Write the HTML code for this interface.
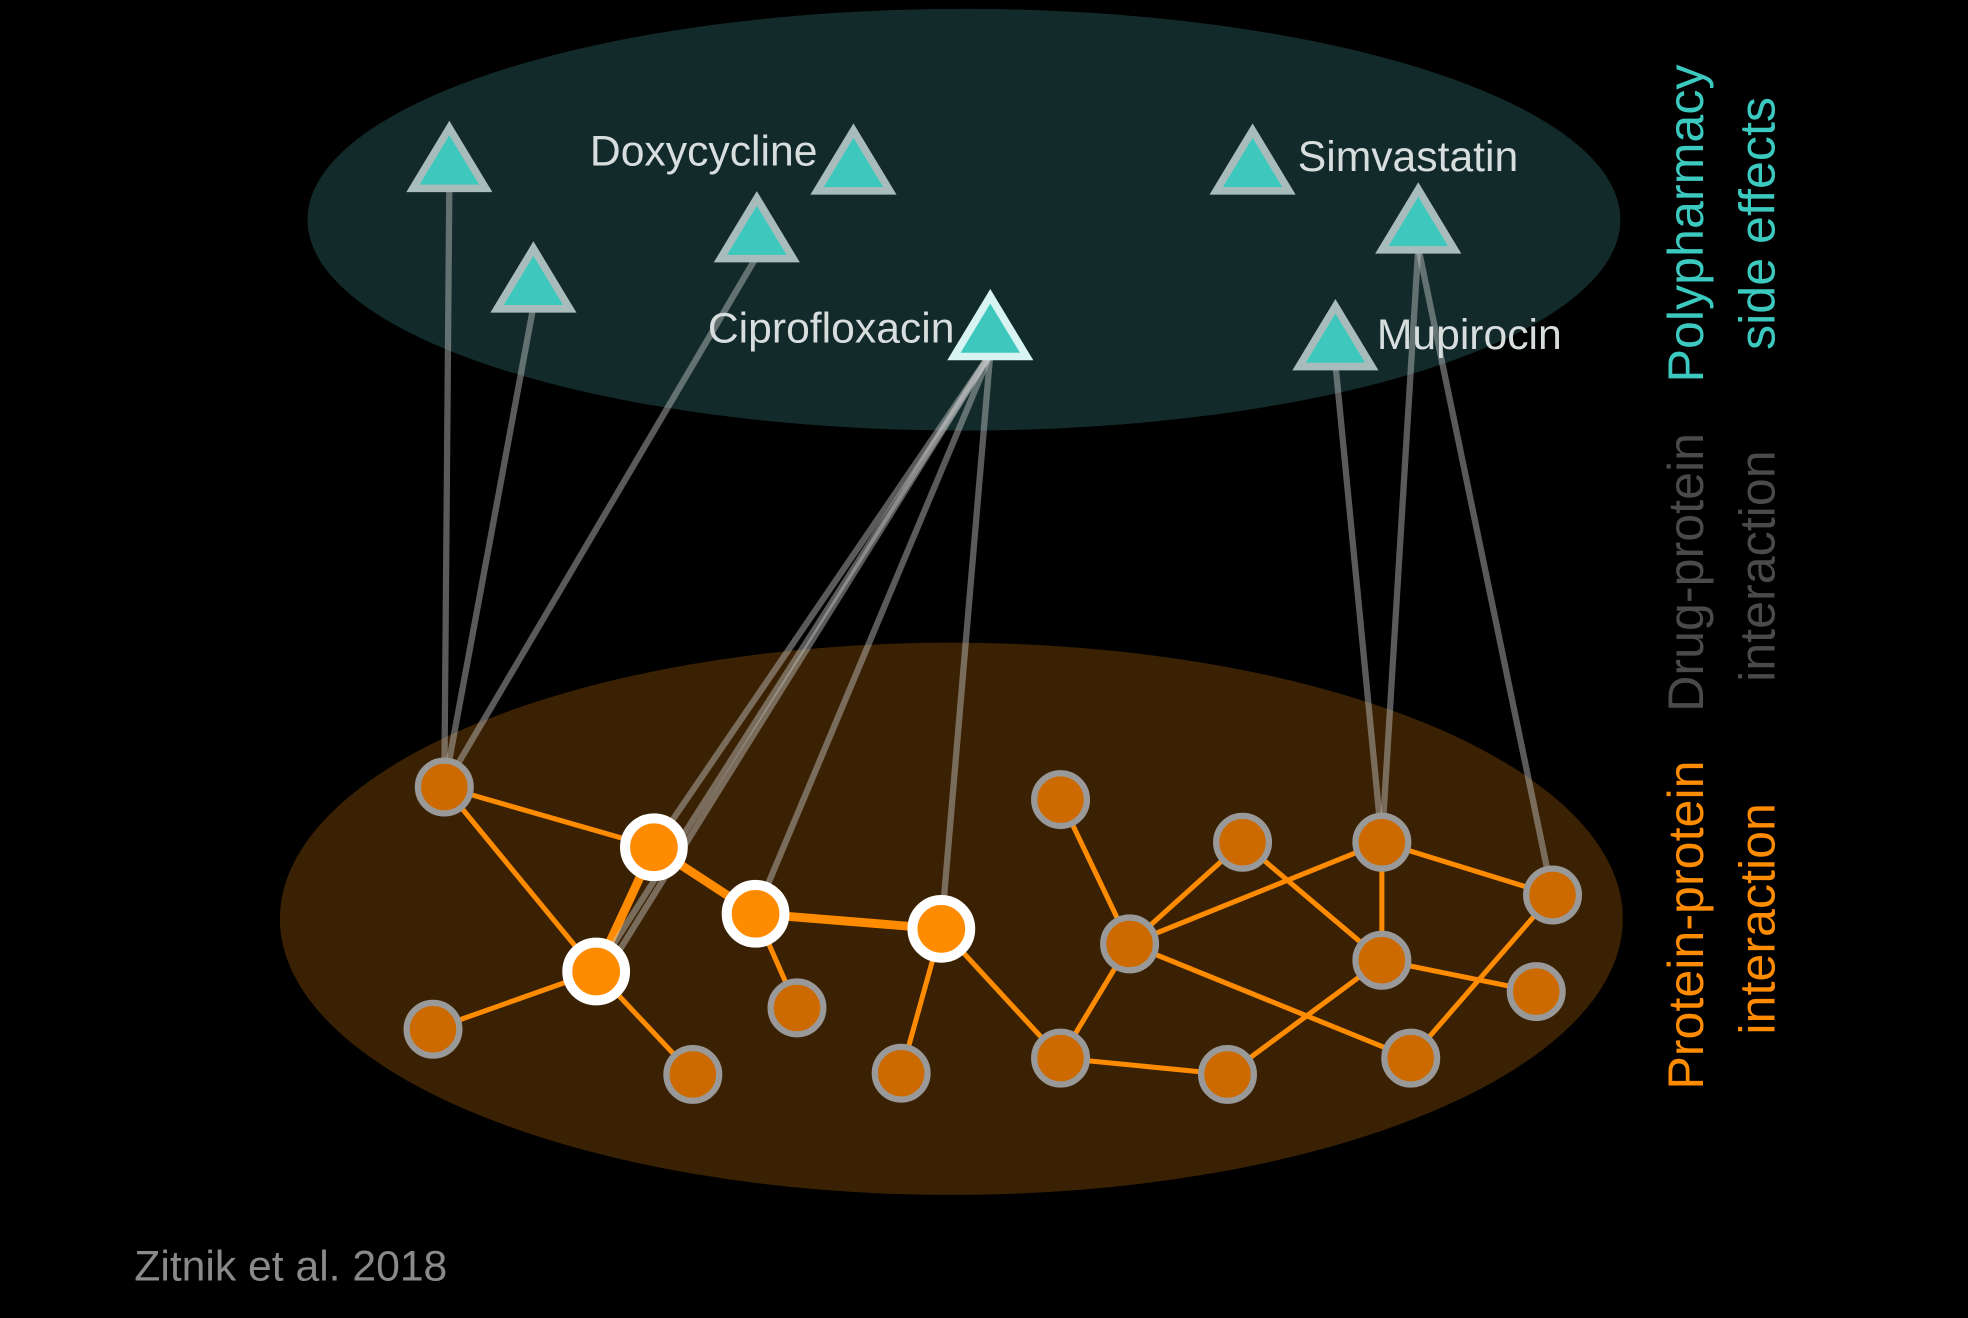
<!DOCTYPE html>
<html><head><meta charset="utf-8"><style>
html,body{margin:0;padding:0;background:#000;width:1968px;height:1318px;overflow:hidden}
svg{display:block}
text{font-family:"Liberation Sans","DejaVu Sans",sans-serif}
</style></head><body>
<svg id="chart" width="1968" height="1318" viewBox="0 0 1568 1050" xmlns="http://www.w3.org/2000/svg">
<rect width="1568" height="1050" fill="#000"/>
<ellipse cx="768" cy="175" rx="523" ry="168" fill="#132a2b"/>
<ellipse cx="758" cy="732" rx="535" ry="220" fill="#3a2103"/>
<g id="ppi"></g><g id="dpi"></g><g id="prots"></g><g id="drugs"></g>
<text x="1357" y="178" transform="rotate(-90 1357 178)" text-anchor="middle" font-size="40" fill="#3cc9bf">Polypharmacy</text>
<text x="1414" y="178" transform="rotate(-90 1414 178)" text-anchor="middle" font-size="40" fill="#3cc9bf">side effects</text>
<text x="1357" y="456" transform="rotate(-90 1357 456)" text-anchor="middle" font-size="40" fill="#4a4a4a">Drug-protein</text>
<text x="1414" y="451" transform="rotate(-90 1414 451)" text-anchor="middle" font-size="40" fill="#4a4a4a">interaction</text>
<text x="1357" y="737" transform="rotate(-90 1357 737)" text-anchor="middle" font-size="40" fill="#ff8c00">Protein-protein</text>
<text x="1414" y="732" transform="rotate(-90 1414 732)" text-anchor="middle" font-size="40" fill="#ff8c00">interaction</text>
<text x="107" y="1020" font-size="34" fill="#8a8a8a">Zitnik et al. 2018</text>
</svg>
<script>
const protX=[354,521,475,602,750,345,552,635,718,845,900,990,845,978,1101,1101,1237,1224,1124];
const protY=[627,675,774,728,740,820,856,803,855,637,752,671,843,856,671,765,713,790,843];
const protHighlight=[0,1,1,1,1,0,0,0,0,0,0,0,0,0,0,0,0,0,0];
const ppiEdges=[[0,1],[0,2],[2,1],[1,3],[3,4],[2,5],[2,6],[3,7],[4,8],[4,12],[9,10],[10,11],[10,12],[10,14],[10,18],[11,15],[12,13],[13,15],[14,15],[14,16],[15,17],[16,18]];
const thickEdges=[2,3,4];
const drugX=[358,680,603,425,789,998,1130,1064];
const drugY=[128,130,184,224,262,130,177,270];
const drugNames=["","Doxycycline","","","Ciprofloxacin","Simvastatin","","Mupirocin"];
const drugLabelX=[0,470,0,0,564,1034,0,1097];
const drugLabelY=[0,132,0,0,273,136,0,278];
const dpiEdges=[[0,0],[3,0],[2,0],[4,1],[4,2],[4,2],[4,3],[4,4],[6,14],[7,14],[6,16]];
const NS="http://www.w3.org/2000/svg";
function mk(t,a,p){const e=document.createElementNS(NS,t);for(const k in a)e.setAttribute(k,a[k]);p.appendChild(e);return e;}
const gP=document.getElementById('ppi'),gD=document.getElementById('dpi'),gN=document.getElementById('prots'),gR=document.getElementById('drugs');
ppiEdges.forEach((e,i)=>{
 const l=mk('line',{x1:protX[e[0]],y1:protY[e[0]],x2:protX[e[1]],y2:protY[e[1]],stroke:'#ff8c00','stroke-width':thickEdges.includes(i)?7:4},gP);
 
 
});
dpiEdges.forEach((e,i)=>{
 const off=(i===5)?8:0;
 const l=mk('line',{x1:drugX[e[0]],y1:drugY[e[0]]+20,x2:protX[e[1]]+off,y2:protY[e[1]],stroke:'rgba(200,200,200,0.45)','stroke-width':5},gD);
 
 
});
protX.forEach((x,i)=>{
 const h=protHighlight[i];
 const c=mk('circle',{cx:x,cy:protY[i],r:h?23:21,fill:h?'#ff8c00':'#cc6a00',stroke:h?'#fff':'#999','stroke-width':h?8:5},gN);
 
 
});
drugX.forEach((x,i)=>{
 const y=drugY[i];
 const t=mk('polygon',{points:`${x},${y-26} ${x-29},${y+22} ${x+29},${y+22}`,fill:'#3ec8bd',stroke:i===4?'#d8f4f2':'#a9bcbc','stroke-width':6,'stroke-linejoin':'miter'},gR);
 
 
 if(drugNames[i]){
  const tx=mk('text',{x:drugLabelX[i],y:drugLabelY[i],'font-size':34,fill:'#d8dede'},gR);
  tx.textContent=drugNames[i];
  
  
 }
});
</script>
</body></html>
